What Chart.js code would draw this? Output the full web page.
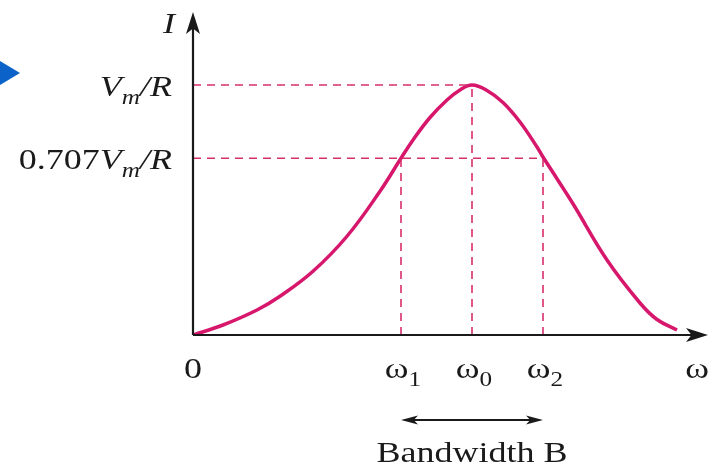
<!DOCTYPE html>
<html>
<head>
<meta charset="utf-8">
<script src="https://cdn.jsdelivr.net/npm/chart.js@4/dist/chart.umd.min.js"></script>
<style>
  html, body { margin: 0; padding: 0; background: #fff; }
  #wrap { width: 715px; height: 466px; }
</style>
</head>
<body>
<div id="wrap"><canvas id="c" width="715" height="466"></canvas></div>
<script>
// resonance curve I(omega) (x in axis units, I relative to Vm/R)
const curveW = [0, 30, 64, 87, 120, 154, 187, 208, 220, 237, 254, 267, 279, 294, 310, 327, 344, 350, 364, 380, 414, 447, 464, 484];
const curveI = [0, 0.04, 0.10, 0.155, 0.255, 0.395, 0.575, 0.707, 0.78, 0.87, 0.94, 0.98, 1.0, 0.978, 0.93, 0.852, 0.752, 0.712, 0.625, 0.525, 0.30, 0.128, 0.062, 0.02];

// marked frequencies w1, w0, w2 and their current levels
const markW = [208, 279, 350];
const markI = [0.707, 1.0, 0.707];

// horizontal reference levels and how far they reach
const levelI = [1.0, 0.707];
const levelEndW = [279, 350];

const xTickW = [0, 208, 279, 350, 504];
const xTickText = [
    [{ t: "0" }],
    [{ t: "ω" }, { t: "1", sub: true }],
    [{ t: "ω" }, { t: "0", sub: true }],
    [{ t: "ω" }, { t: "2", sub: true }],
    [{ t: "ω" }]
];
const yTickI = [1.0, 0.707];
const yTickText = [
    [{ t: "V", i: true }, { t: "m", i: true, sub: true }, { t: "/R", i: true }],
    [{ t: "0.707" }, { t: "V", i: true }, { t: "m", i: true, sub: true }, { t: "/R", i: true }]
];

const W_MAX = 515;
const I_MAX = 1.292;

const PINK = "#d6176c";
const DASH_PINK = "#d62f6c";
const AXIS = "#1a1a1a";
const SERIF = "'Liberation Serif', 'DejaVu Serif', serif";
const SIZE = 30;
const SUB_SIZE = 21;
const SX = 1.2; // the type in the figure is set a little wide

const dashSets = [];
markW.forEach((w, k) => {
    dashSets.push({
        data: [{ x: w, y: 0 }, { x: w, y: markI[k] }],
        borderColor: DASH_PINK, borderWidth: 1.6, borderDash: [8, 6],
        pointRadius: 0, showLine: true, fill: false
    });
});
levelI.forEach((lv, k) => {
    dashSets.push({
        data: [{ x: 0, y: lv }, { x: levelEndW[k], y: lv }],
        borderColor: DASH_PINK, borderWidth: 1.6, borderDash: [8, 6],
        pointRadius: 0, showLine: true, fill: false
    });
});

function arrowHead(ctx, x, y, dx, dy, len, half) {
    // filled arrow with a small notch, pointing along (dx, dy)
    const px = -dy, py = dx;
    ctx.beginPath();
    ctx.moveTo(x, y);
    ctx.lineTo(x - dx * len + px * half, y - dy * len + py * half);
    ctx.lineTo(x - dx * len * 0.75, y - dy * len * 0.75);
    ctx.lineTo(x - dx * len - px * half, y - dy * len - py * half);
    ctx.closePath();
    ctx.fill();
}

function partFont(p) {
    return (p.i ? "italic " : "") + (p.sub ? SUB_SIZE : SIZE) + "px " + SERIF;
}

function richWidth(ctx, parts) {
    let w = 0;
    parts.forEach((p) => {
        ctx.font = partFont(p);
        w += ctx.measureText(p.t).width * SX;
    });
    return w;
}

function drawRich(ctx, parts, x, y) {
    let cx = x;
    parts.forEach((p) => {
        ctx.font = partFont(p);
        ctx.save();
        ctx.translate(cx, p.sub ? y + 8 : y);
        ctx.scale(SX, 1);
        ctx.fillText(p.t, 0, 0);
        ctx.restore();
        cx += ctx.measureText(p.t).width * SX;
    });
}

const decorPlugin = {
    id: "decor",
    afterDraw(chart) {
        const ctx = chart.ctx;
        const xs = chart.scales.x;
        const ys = chart.scales.y;
        const x0 = xs.getPixelForValue(0);
        const y0 = ys.getPixelForValue(0);
        const xEnd = xs.getPixelForValue(W_MAX);
        const yEnd = ys.getPixelForValue(I_MAX);

        ctx.save();
        // axes
        ctx.strokeStyle = AXIS;
        ctx.fillStyle = AXIS;
        ctx.lineWidth = 2.2;
        ctx.beginPath();
        ctx.moveTo(x0, y0);
        ctx.lineTo(xEnd - 12, y0);
        ctx.moveTo(x0, y0);
        ctx.lineTo(x0, yEnd + 12);
        ctx.stroke();
        arrowHead(ctx, xEnd, y0, 1, 0, 22, 7);
        arrowHead(ctx, x0, yEnd, 0, -1, 22, 7);

        ctx.textAlign = "left";
        ctx.textBaseline = "alphabetic";

        // axis name
        drawRich(ctx, [{ t: "I", i: true }], x0 - 30, yEnd + 21);

        // x tick labels, centred under their marks
        xTickW.forEach((w, k) => {
            const cx = xs.getPixelForValue(w);
            const parts = xTickText[k];
            const tw = richWidth(ctx, parts);
            drawRich(ctx, parts, cx - tw / 2 + (parts.length > 1 ? 2 : 0), y0 + 43);
        });

        // y tick labels, right aligned left of the axis
        yTickI.forEach((lv, k) => {
            const cy = ys.getPixelForValue(lv);
            const w = richWidth(ctx, yTickText[k]);
            drawRich(ctx, yTickText[k], x0 - 21 - w, cy + 11);
        });

        // bandwidth arrow between w1 and w2
        const bx1 = xs.getPixelForValue(markW[0]);
        const bx2 = xs.getPixelForValue(markW[2]);
        const by = y0 + 85;
        ctx.lineWidth = 2;
        ctx.beginPath();
        ctx.moveTo(bx1 + 8, by);
        ctx.lineTo(bx2 - 8, by);
        ctx.stroke();
        arrowHead(ctx, bx1, by, -1, 0, 17, 4.5);
        arrowHead(ctx, bx2, by, 1, 0, 17, 4.5);
        const bw = [{ t: "Bandwidth B" }];
        const bwW = richWidth(ctx, bw);
        drawRich(ctx, bw, (bx1 + bx2) / 2 - bwW / 2, by + 42);

        // blue page marker at the left edge
        ctx.fillStyle = "#0b63c9";
        ctx.beginPath();
        ctx.moveTo(0, 61);
        ctx.lineTo(20, 73);
        ctx.lineTo(0, 85);
        ctx.closePath();
        ctx.fill();
        ctx.restore();
    }
};

new Chart(document.getElementById("c"), {
    type: "scatter",
    data: {
        datasets: [
            ...dashSets,
            {
                data: curveW.map((w, k) => ({ x: w, y: curveI[k] })),
                borderColor: PINK,
                borderWidth: 3.5,
                pointRadius: 0,
                showLine: true,
                fill: false,
                tension: 0.4
            }
        ]
    },
    options: {
        responsive: false,
        animation: false,
        layout: { padding: { left: 193, right: 7, top: 12, bottom: 131 } },
        plugins: { legend: { display: false }, tooltip: { enabled: false } },
        scales: {
            x: { type: "linear", min: 0, max: W_MAX, display: false },
            y: { type: "linear", min: 0, max: I_MAX, display: false }
        }
    },
    plugins: [decorPlugin]
});
</script>
</body>
</html>
